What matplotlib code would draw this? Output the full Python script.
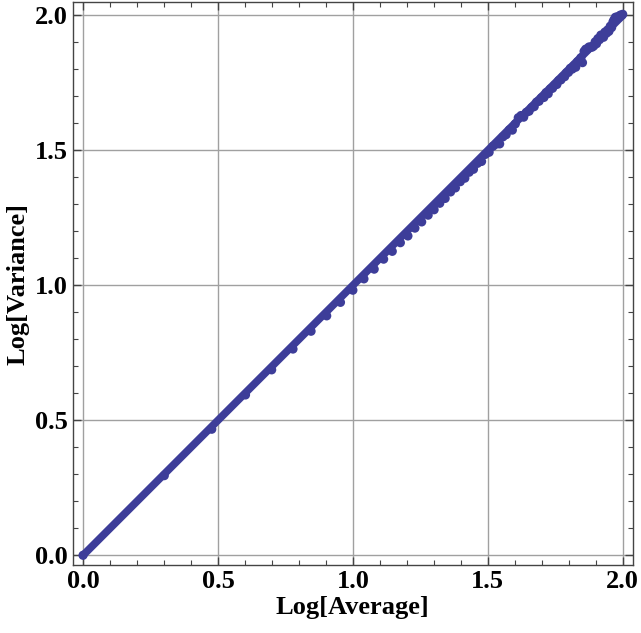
import matplotlib.pyplot as plt
from matplotlib.ticker import MultipleLocator

# Log10 of the average for each sample (averages 1..100)
log_average = [
    0.000, 0.301, 0.477, 0.602, 0.699, 0.778, 0.845, 0.903, 0.954, 1.000,
    1.041, 1.079, 1.114, 1.146, 1.176, 1.204, 1.230, 1.255, 1.279, 1.301,
    1.322, 1.342, 1.362, 1.380, 1.398, 1.415, 1.431, 1.447, 1.462, 1.477,
    1.491, 1.505, 1.519, 1.531, 1.544, 1.556, 1.568, 1.580, 1.591, 1.602,
    1.613, 1.623, 1.633, 1.643, 1.653, 1.663, 1.672, 1.681, 1.690, 1.699,
    1.708, 1.716, 1.724, 1.732, 1.740, 1.748, 1.756, 1.763, 1.771, 1.778,
    1.785, 1.792, 1.799, 1.806, 1.813, 1.820, 1.826, 1.833, 1.839, 1.845,
    1.851, 1.857, 1.863, 1.869, 1.875, 1.881, 1.886, 1.892, 1.898, 1.903,
    1.908, 1.914, 1.919, 1.924, 1.929, 1.934, 1.940, 1.944, 1.949, 1.954,
    1.959, 1.964, 1.968, 1.973, 1.978, 1.982, 1.987, 1.991, 1.996, 2.000,
]

# Log10 of the variance
log_variance = [
    0.000, 0.295, 0.467, 0.594, 0.687, 0.764, 0.830, 0.887, 0.937, 0.982,
    1.024, 1.060, 1.097, 1.126, 1.158, 1.183, 1.212, 1.235, 1.260, 1.280,
    1.304, 1.322, 1.346, 1.361, 1.384, 1.397, 1.419, 1.430, 1.452, 1.459,
    1.485, 1.493, 1.515, 1.523, 1.524, 1.550, 1.558, 1.576, 1.575, 1.598,
    1.621, 1.629, 1.623, 1.641, 1.645, 1.659, 1.662, 1.679, 1.682, 1.695,
    1.696, 1.714, 1.710, 1.728, 1.730, 1.742, 1.744, 1.759, 1.761, 1.772,
    1.773, 1.788, 1.789, 1.804, 1.801, 1.814, 1.808, 1.829, 1.831, 1.843,
    1.825, 1.867, 1.875, 1.875, 1.883, 1.883, 1.882, 1.886, 1.902, 1.895,
    1.914, 1.910, 1.927, 1.922, 1.919, 1.938, 1.934, 1.946, 1.941, 1.960,
    1.955, 1.976, 1.984, 1.993, 1.994, 1.994, 1.993, 2.001, 2.000, 2.004,
]

# Fitted line: variance equals average
fit_x = [0.0, 2.0]
fit_y = [0.0, 2.0]

color = '#3d3d99'

fig = plt.figure(figsize=(6.41, 6.33), dpi=100)
ax = fig.add_axes([0.114, 0.107, 0.873, 0.89])

ax.plot(fit_x, fit_y, color=color, linewidth=5.5, solid_capstyle='round', zorder=3)
ax.scatter(log_average, log_variance, s=44, color=color, edgecolors='none', zorder=4)

ax.set_xlim(-0.037, 2.037)
ax.set_ylim(-0.037, 2.05)

ax.xaxis.set_major_locator(MultipleLocator(0.5))
ax.yaxis.set_major_locator(MultipleLocator(0.5))
ax.xaxis.set_minor_locator(MultipleLocator(0.1))
ax.yaxis.set_minor_locator(MultipleLocator(0.1))
ax.xaxis.set_major_formatter(plt.FuncFormatter(lambda v, p: f'{v:.1f}'))
ax.yaxis.set_major_formatter(plt.FuncFormatter(lambda v, p: f'{v:.1f}'))

ax.grid(True, which='major', color='#a0a0a0', linewidth=1.0)
ax.set_axisbelow(True)

ax.tick_params(which='both', direction='in', top=True, right=True, color='#444444')
ax.tick_params(which='major', length=6, width=1)
ax.tick_params(which='minor', length=3.5, width=0.8)
for s in ax.spines.values():
    s.set_color('#444444')
    s.set_linewidth(1.0)

font = {'family': 'Liberation Serif', 'weight': 'bold', 'size': 19}
for lab in ax.get_xticklabels() + ax.get_yticklabels():
    lab.set_fontfamily('Liberation Serif')
    lab.set_fontweight('bold')
    lab.set_fontsize(19)

ax.set_xlabel('Log[Average]', fontdict=font, labelpad=2)
ax.set_ylabel('Log[Variance]', fontdict=font, labelpad=4)

fig.savefig('out.png', dpi=100)
